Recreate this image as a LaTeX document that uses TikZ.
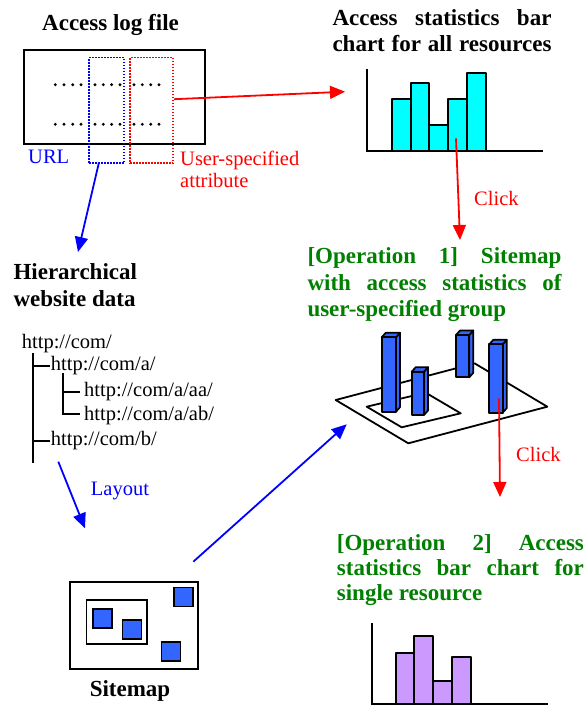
\documentclass[tikz,border=0pt]{standalone}
\usepackage{fontspec}
\setmainfont{Liberation Serif}
\usetikzlibrary{arrows.meta}

\definecolor{opgreen}{RGB}{0,128,0}
\definecolor{barcyan}{RGB}{0,255,255}
\definecolor{barblue}{RGB}{51,102,255}
\definecolor{barviolet}{RGB}{204,153,255}

\tikzset{
  plain/.style={inner sep=0pt, anchor=base west, font=\fontsize{20.5}{25}\selectfont},
  heading/.style={inner sep=0pt, anchor=base west, font=\fontsize{23}{26}\selectfont\bfseries},
  arr/.style={line width=1.8pt, -{Triangle[length=15pt,width=13pt]}},
  frame/.style={draw, line width=2pt, inner sep=0pt, anchor=north west},
  dotbox/.style={draw, line width=1.8pt, dash pattern=on 1.6pt off 1.4pt, inner sep=0pt, anchor=north west},
  barface/.style={draw, line width=1.7pt, line join=round},
  axis/.style={line width=1.9pt},
  treeline/.style={line width=1.7pt},
  tile/.style={draw, line width=1.7pt, fill=barblue, inner sep=0pt, minimum size=19pt, anchor=north west},
}

% a bar standing on the 3-D map: left, right, top, bottom of its front face
\newcommand\cubebar[4]{%
  \filldraw[barface, fill=barblue] ({#2},{#3}) -- ({#2+4},{#3-4.5}) -- ({#2+4},{#4-4.5}) -- ({#2},{#4}) -- cycle;
  \filldraw[barface, fill=barblue] ({#1},{#3}) -- ({#1+4},{#3-4.5}) -- ({#2+4},{#3-4.5}) -- ({#2},{#3}) -- cycle;
  \filldraw[barface, fill=barblue] ({#1},{#3}) rectangle ({#2},{#4});
}

\begin{document}
\begin{tikzpicture}[x=1pt, y=-1pt]
\useasboundingbox (0,0) rectangle (587,706);

% ---------- access log file ----------
\node[heading] (logT) at (42,30.7) {Access log file};
\node[frame, minimum width=181pt, minimum height=94pt] (log) at (23.3,49.3) {};
\foreach \y in {84.7,124.3}
  \foreach \x in {55.3,64,72.7,81,95,103.3,111.6,120,134,142.3,150.7,159}
    \fill (\x,\y) circle (1.6);
\node[dotbox, draw=blue, minimum width=35pt, minimum height=105.6pt] (url) at (88.3,56.7) {};
\node[dotbox, draw=red, minimum width=43pt, minimum height=105.6pt] (attr) at (129.3,56.7) {};
\node[plain, text=blue] (urlT) at (28,163) {URL};
\node[plain, text=red] (attrT1) at (180,165) {User-specified};
\node[plain, text=red] (attrT2) at (180,187) {attribute};

% ---------- bar chart for all resources ----------
\node[heading] (allT1) at (332.3,26) {\makebox[219pt][s]{Access statistics bar}};
\node[heading] (allT2) at (332.3,51.7) {\makebox[219pt][s]{chart for all resources}};
\foreach \a/\b/\t in {392/410.7/99.3, 410.7/429.3/82.7, 429.3/448.3/125, 448.3/467.3/98.7, 467.3/486/72.7}
  \filldraw[barface, fill=barcyan] (\a,\t) rectangle (\b,150.7);
\draw[axis] (367.3,69.3) -- (367.3,150.7) -- (543.3,150.7);
\coordinate (chartIn) at (345,91.7);
\coordinate (clickFrom) at (456,138.3);
\coordinate (clickTo) at (460,240);

\draw[arr, red] ([yshift=11.2pt]attr.east) -- (chartIn);
\draw[arr, red] (clickFrom) -- (clickTo);
\node[plain, text=red] (click1) at (474,205) {Click};

% ---------- operation 1: 3-D sitemap ----------
\node[heading, text=opgreen] (op1a) at (307.3,263.3) {\makebox[254pt][s]{[Operation 1] Sitemap}};
\node[heading, text=opgreen] (op1b) at (307.3,290) {\makebox[254pt][s]{with access statistics of}};
\node[heading, text=opgreen] (op1c) at (307.3,316.3) {user-specified group};

\draw[line width=1.8pt, line join=round] (335.7,400) -- (474.7,363.4) -- (547.3,406.7) -- (408.3,443.3) -- cycle;
\draw[line width=1.8pt, line join=round] (366.7,406.7) -- (425.7,392.7) -- (460.7,413.3) -- (401.7,427.3) -- cycle;
\cubebar{456}{469.3}{335}{377.3}
\cubebar{381.7}{396}{337.3}{411.7}
\cubebar{411.7}{424}{371.7}{415}
\cubebar{489.3}{502.7}{344.3}{412.7}

\coordinate (mapClickFrom) at (499,398.3);
\coordinate (mapClickTo) at (500,497);
\draw[arr, red] (mapClickFrom) -- (mapClickTo);
\node[plain, text=red] (click2) at (516,461) {Click};

% ---------- hierarchical website data ----------
\coordinate (urlOut) at (99,162.3);
\coordinate (hierIn) at (78,252);
\draw[arr, blue] (urlOut) -- (hierIn);
\node[heading] (hierT1) at (13.3,279.3) {Hierarchical};
\node[heading] (hierT2) at (13.3,306.7) {website data};

\node[plain] (root) at (21.7,348.3) {http://com/};
\node[plain] (na) at (50.7,370) {http://com/a/};
\node[plain] (naa) at (84,396.7) {http://com/a/aa/};
\node[plain] (nab) at (84,420) {http://com/a/ab/};
\node[plain] (nb) at (50.7,445) {http://com/b/};
\draw[treeline] (33.3,353.3) -- (33.3,463.3);
\draw[treeline] (33.3,366) -- (50,366);
\draw[treeline] (33.3,441) -- (50,441);
\draw[treeline] (63.3,373.3) -- (63.3,414) -- (80,414);
\draw[treeline] (63.3,391.7) -- (80,391.7);

\coordinate (treeOut) at (58.3,461.7);
\coordinate (mapIn) at (85,528.3);
\draw[arr, blue] (treeOut) -- (mapIn);
\node[plain, text=blue] (layoutT) at (90.7,495) {Layout};

% ---------- flat sitemap ----------
\node[frame, minimum width=127.7pt, minimum height=87pt] (smap) at (69,580.7) {};
\node[frame, line width=1.7pt, minimum width=60.3pt, minimum height=44.3pt] (sgroup) at (85.7,599) {};
\node[tile] (t1) at (92.3,608.3) {};
\node[tile] (t2) at (121.7,619.3) {};
\node[tile] (t3) at (173.3,586.7) {};
\node[tile] (t4) at (160.7,641) {};
\node[heading, anchor=base] (smapT) at (130,696.7) {Sitemap};

\coordinate (smapOut) at (193.3,561.7);
\coordinate (map3dIn) at (346.7,424.3);
\draw[arr, blue] (smapOut) -- (map3dIn);

% ---------- operation 2: single resource ----------
\node[heading, text=opgreen] (op2a) at (336.7,550) {\makebox[247pt][s]{[Operation 2] Access}};
\node[heading, text=opgreen] (op2b) at (336.7,575) {\makebox[247pt][s]{statistics bar chart for}};
\node[heading, text=opgreen] (op2c) at (336.7,600.7) {single resource};

\foreach \a/\b/\t in {395.7/414/653.3, 414/433.3/636.3, 433.3/452/681, 452/471/657}
  \filldraw[barface, fill=barviolet] (\a,\t) rectangle (\b,704);
\draw[axis] (371.7,623.3) -- (371.7,704) -- (547.7,704);
\end{tikzpicture}
\end{document}
